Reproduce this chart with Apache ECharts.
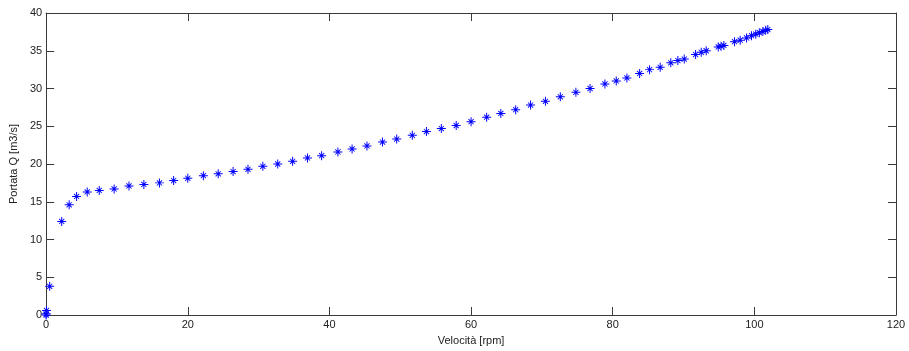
<!DOCTYPE html>
<html><head><meta charset="utf-8">
<script src="https://cdn.jsdelivr.net/npm/echarts@6/dist/echarts.min.js"></script>
<style>html,body{margin:0;padding:0;background:#fff}#c{width:909px;height:351px}</style>
</head><body><div id="c"></div>
<script>
const velocita = [0,0,0.05,0.5,2.2,3.25,4.3,5.8,7.5,9.6,11.7,13.8,16.0,18.0,20.0,22.2,24.3,26.4,28.5,30.6,32.7,34.8,36.9,38.9,41.2,43.2,45.3,47.5,49.5,51.7,53.7,55.8,57.9,60.0,62.2,64.2,66.3,68.4,70.5,72.6,74.8,76.8,78.9,80.5,82.0,83.8,85.2,86.7,88.2,89.2,90.1,91.7,92.5,93.2,94.9,95.3,95.7,97.2,98.0,98.9,99.6,100.2,100.7,101.2,101.6,101.9];
const portata = [0,0.15,0.6,3.8,12.4,14.6,15.7,16.3,16.5,16.7,17.1,17.3,17.5,17.8,18.1,18.45,18.7,19.0,19.3,19.7,20.0,20.35,20.8,21.1,21.6,22.0,22.4,22.9,23.3,23.8,24.3,24.7,25.1,25.6,26.2,26.7,27.2,27.8,28.3,28.9,29.5,30.0,30.6,31.0,31.4,32.0,32.5,32.8,33.4,33.7,33.9,34.5,34.8,35.0,35.5,35.6,35.7,36.2,36.4,36.7,37.0,37.2,37.4,37.55,37.7,37.8];
const xTicks = [0,20,40,60,80,100,120];
const yTicks = [0,5,10,15,20,25,30,35,40];
const xName = 'Velocità [rpm]';
const yName = 'Portata Q [m3/s]';

const star = 'path://M0,4.45L10,4.45L10,5.55L0,5.55Z M4.45,0L5.55,0L5.55,10L4.45,10Z M1.8,2.5L2.5,1.8L8.2,7.5L7.5,8.2Z M7.5,1.8L8.2,2.5L2.5,8.2L1.8,7.5Z';
const axCol = '#3a3a3a';
const font = 'Liberation Sans, Arial, sans-serif';
const chart = echarts.init(document.getElementById('c'), null, {renderer:'canvas'});
const baseX = {type:'value', min:xTicks[0], max:xTicks[xTicks.length-1], interval:20,
  axisLine:{onZero:false, lineStyle:{color:axCol, width:1}},
  axisTick:{inside:true, length:8, lineStyle:{color:axCol}},
  splitLine:{show:false}};
const baseY = {type:'value', min:yTicks[0], max:yTicks[yTicks.length-1], interval:5,
  axisLine:{onZero:false, lineStyle:{color:axCol, width:1}},
  axisTick:{inside:true, length:8, lineStyle:{color:axCol}},
  splitLine:{show:false}};
chart.setOption({
  animation:false,
  grid:{left:46, top:13, right:13, bottom:34},
  xAxis:[
    Object.assign({}, baseX, {position:'bottom', name:xName, nameLocation:'middle', nameGap:20,
      nameTextStyle:{fontFamily:font, fontSize:11, color:'#222'},
      axisLabel:{fontFamily:font, fontSize:11, color:'#222', margin:4}}),
    Object.assign({}, baseX, {position:'top', axisLabel:{show:false}})
  ],
  yAxis:[
    Object.assign({}, baseY, {position:'left', name:yName, nameLocation:'middle', nameGap:26, nameRotate:90,
      nameTextStyle:{fontFamily:font, fontSize:11, color:'#222'},
      axisLabel:{fontFamily:font, fontSize:11, color:'#222', margin:4}}),
    Object.assign({}, baseY, {position:'right', axisLabel:{show:false}})
  ],
  series:[{
    type:'scatter', xAxisIndex:0, yAxisIndex:0,
    data: velocita.map((v,i)=>[v, portata[i]]),
    symbol: star, symbolSize:9,
    itemStyle:{color:'#0000ff', opacity:1},
    clip:false
  }]
});
</script></body></html>
